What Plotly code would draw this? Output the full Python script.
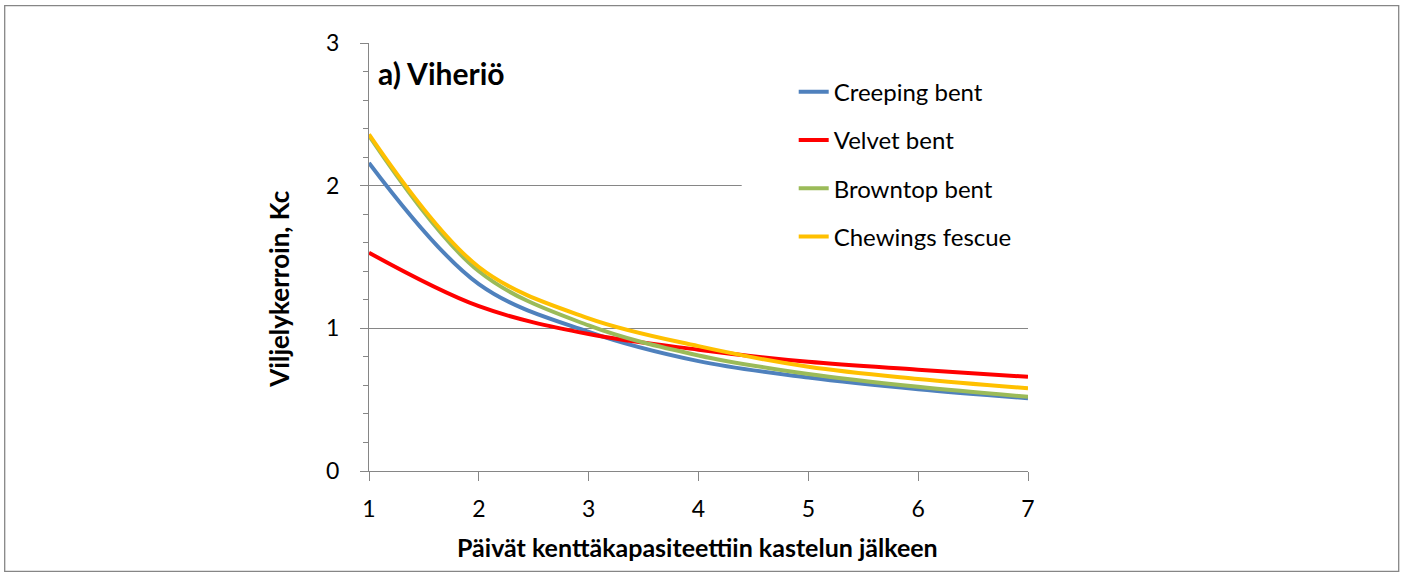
import plotly.graph_objects as go

days = [1, 2, 3, 4, 5, 6, 7]
creeping_bent = [2.16, 1.31, 0.975, 0.77, 0.655, 0.573, 0.51]
velvet_bent = [1.53, 1.155, 0.96, 0.85, 0.765, 0.71, 0.66]
browntop_bent = [2.35, 1.40, 1.02, 0.81, 0.68, 0.59, 0.52]
chewings_fescue = [2.36, 1.43, 1.07, 0.875, 0.73, 0.645, 0.58]

series = [
    ("Creeping bent", creeping_bent, "#4F81BD"),
    ("Velvet bent", velvet_bent, "#FF0000"),
    ("Browntop bent", browntop_bent, "#9BBB59"),
    ("Chewings fescue", chewings_fescue, "#FFC000"),
]

FONT = "Lato"
GREY = "#868686"

# plot-area geometry in pixels (for paper conversions)
PX0, PX1 = 369.3, 1028.3
PY0, PY1 = 43.3, 470.7
W, H = PX1 - PX0, PY1 - PY0


def px(x):
    return (x - PX0) / W


def py(y):
    return (PY1 - y) / H


fig = go.Figure()
for i, (name, vals, col) in enumerate(series):
    fig.add_trace(go.Scatter(
        x=days, y=vals, name=name, mode="lines",
        line=dict(color=col, width=4, shape="spline", smoothing=1),
        legendgroup=f"g{i}",
    ))

fig.update_layout(
    width=1405, height=574,
    margin=dict(l=369, r=377, t=43, b=103, autoexpand=False),
    paper_bgcolor="white", plot_bgcolor="white",
    font=dict(family=FONT, color="black", size=20),
    showlegend=True,
    legend=dict(
        x=px(794), y=py(70), xanchor="left", yanchor="top",
        bgcolor="rgba(0,0,0,0)", borderwidth=0,
        font=dict(family=FONT, size=24, color="black"),
        traceorder="grouped", tracegroupgap=14,
        itemwidth=30,
    ),
    xaxis=dict(
        range=[1, 7], dtick=1, tick0=1,
        showgrid=False, zeroline=False,
        showline=True, linecolor=GREY, linewidth=1.3,
        ticks="outside", ticklen=9, tickcolor=GREY, tickwidth=1.3,
        tickfont=dict(family=FONT, size=23, color="black"),
        ticklabelstandoff=8,
    ),
    yaxis=dict(
        range=[0, 3], dtick=1, tick0=0,
        showgrid=True, gridcolor=GREY, gridwidth=1.2,
        zeroline=False,
        showline=True, linecolor=GREY, linewidth=1.3,
        ticks="outside", ticklen=8, tickcolor=GREY, tickwidth=1.3,
        minor=dict(dtick=0.2, ticks="outside", ticklen=5, tickcolor=GREY,
                   tickwidth=1.3, showgrid=False),
        tickfont=dict(family=FONT, size=23, color="black"),
        ticklabelstandoff=16,
    ),
    shapes=[
        # white legend background box (hides gridline under the legend)
        dict(type="rect", xref="paper", yref="paper",
             x0=px(742), x1=px(1031), y0=py(262), y1=py(58),
             fillcolor="white", line=dict(width=0), layer="above"),
        # outer chart border
        dict(type="rect", xref="paper", yref="paper",
             x0=px(5), x1=px(1399), y0=py(571), y1=py(6),
             line=dict(color=GREY, width=1.3), fillcolor="rgba(0,0,0,0)"),
    ],
    annotations=[
        dict(text="<b>a) Viheriö</b>", xref="paper", yref="paper",
             x=px(376), y=py(73), xanchor="left", yanchor="middle",
             showarrow=False, font=dict(family=FONT, size=30, color="black")),
        dict(text="<b>Viljelykerroin, Kc</b>", xref="paper", yref="paper",
             x=px(279), y=py(289), xanchor="center", yanchor="middle",
             textangle=-90, showarrow=False,
             font=dict(family=FONT, size=26, color="black")),
        dict(text="<b>Päivät kenttäkapasiteettiin kastelun jälkeen</b>",
             xref="paper", yref="paper",
             x=px(698), y=py(547), xanchor="center", yanchor="middle",
             showarrow=False, font=dict(family=FONT, size=25, color="black")),
    ],
)

fig.write_html(
    "out.html",
    config={"displayModeBar": False},
    post_script="document.body.style.margin='0px';document.body.style.overflow='hidden';",
)
